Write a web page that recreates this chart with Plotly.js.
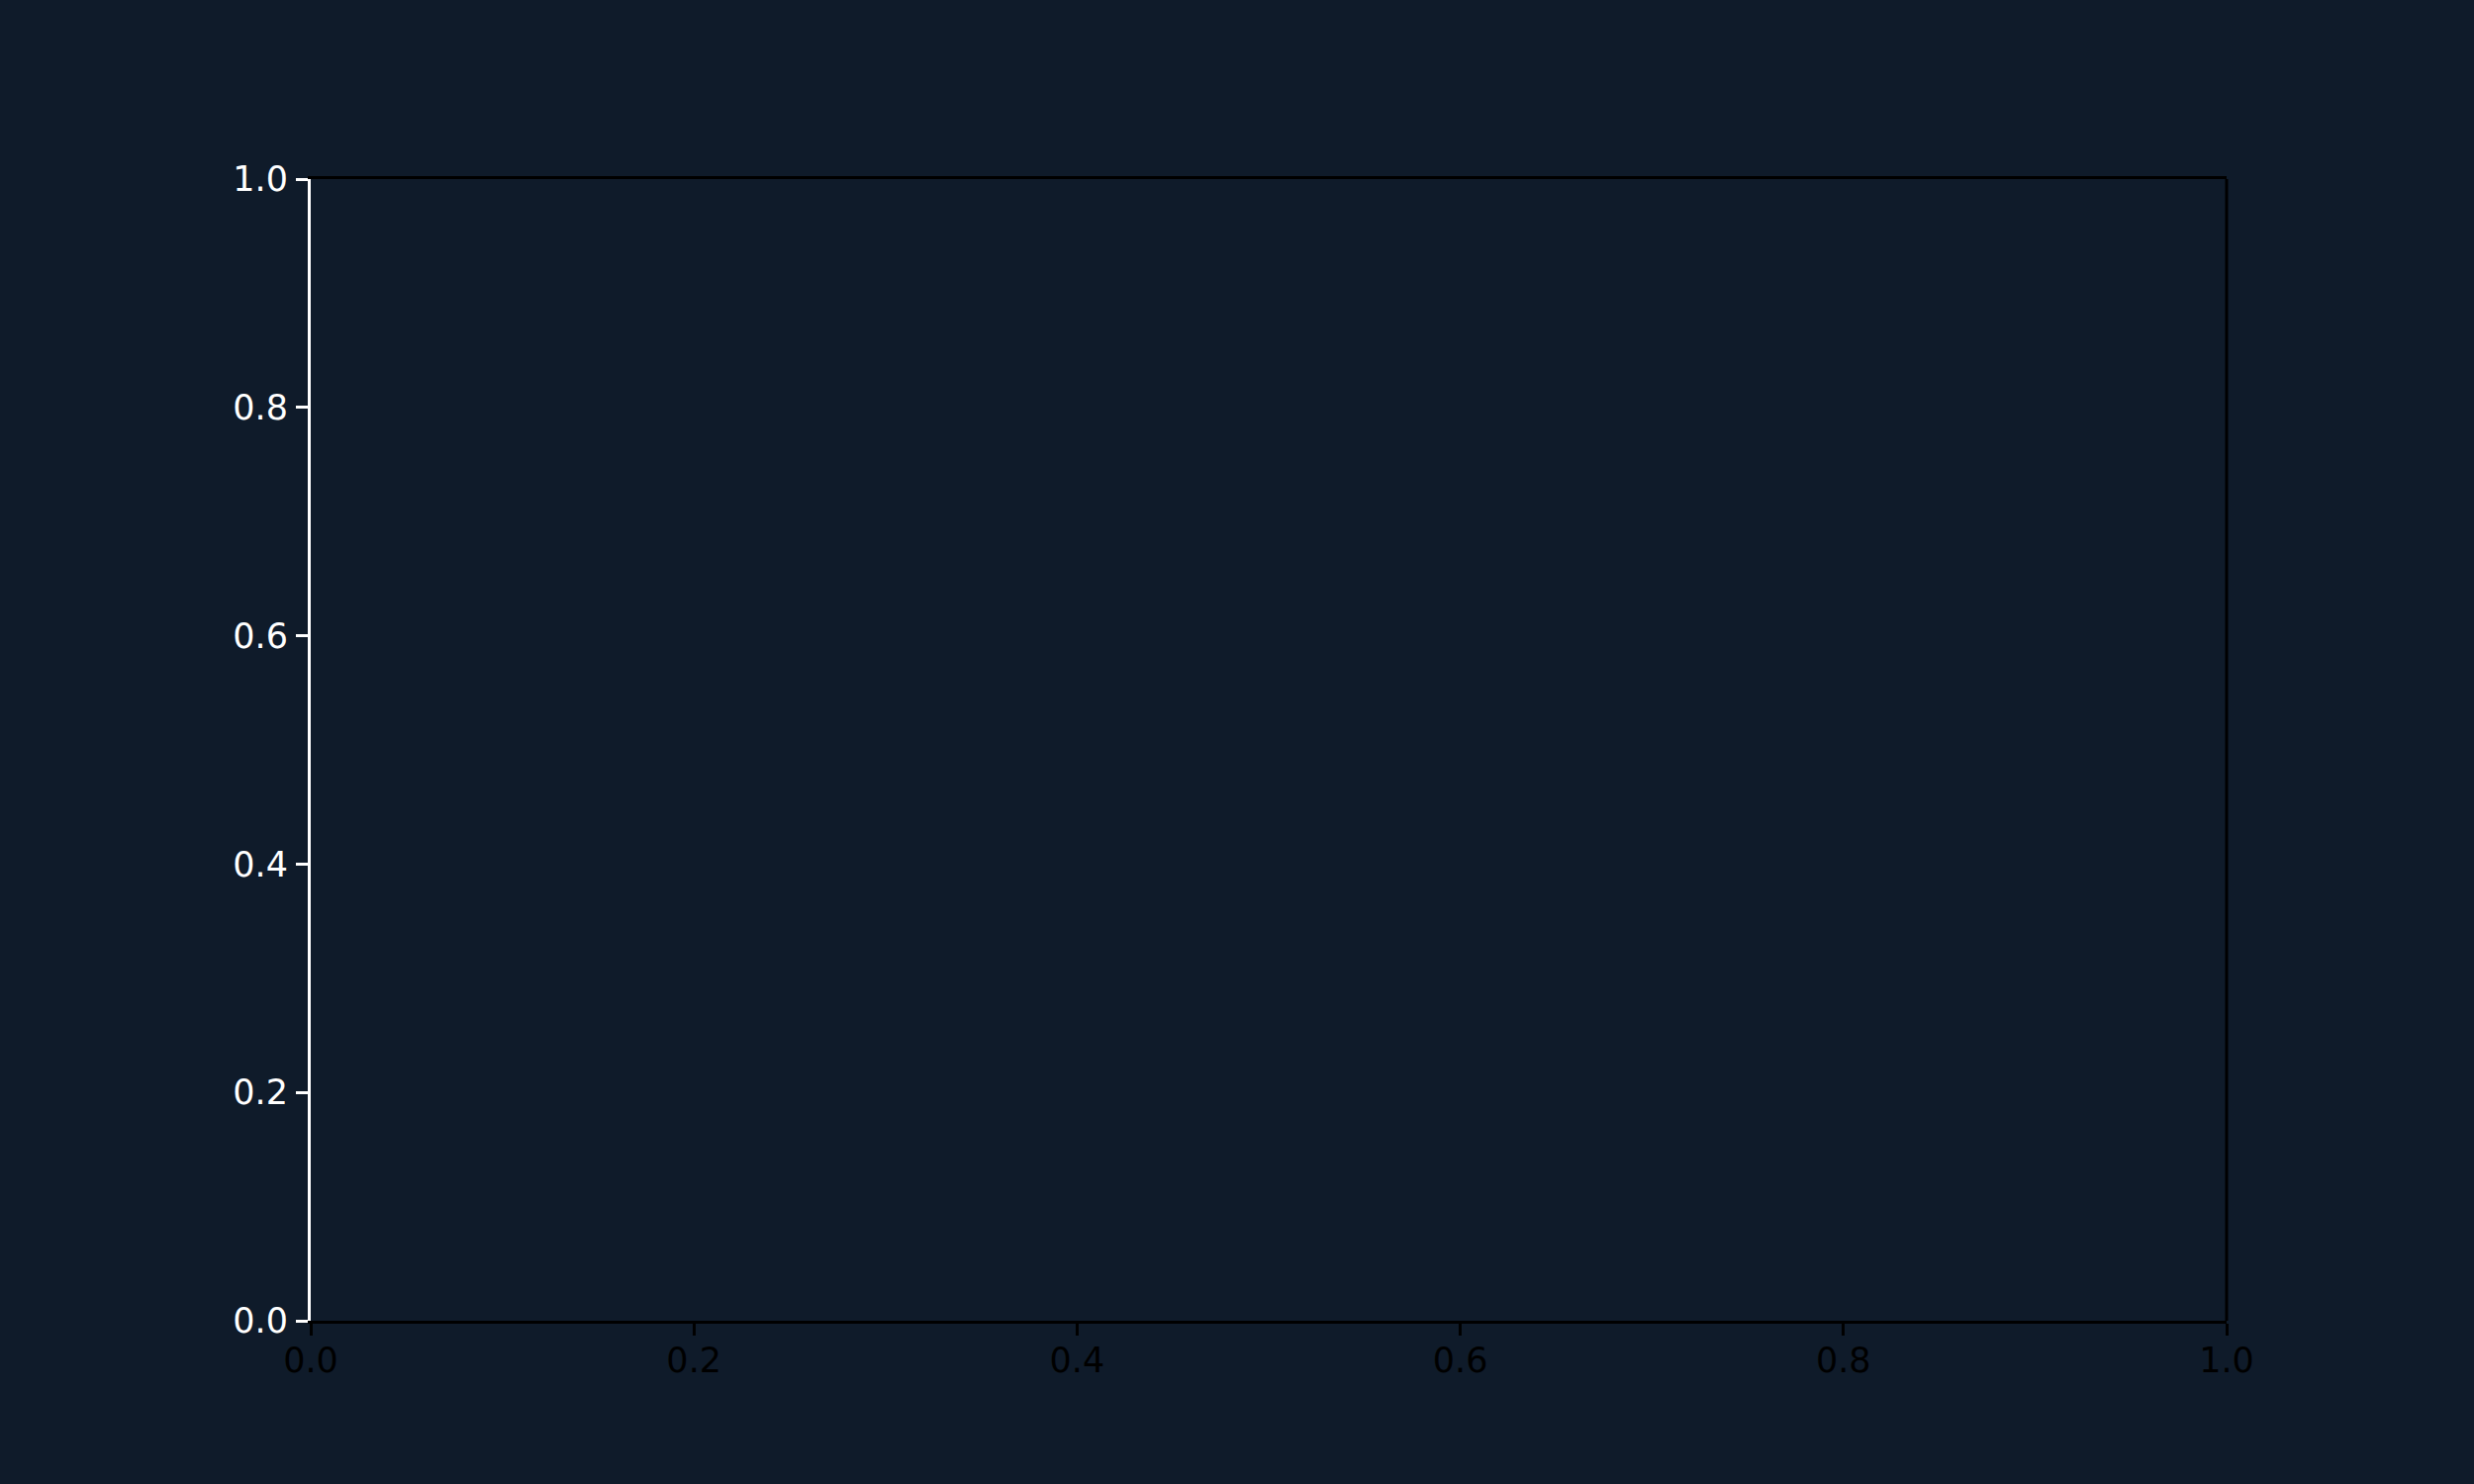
<!DOCTYPE html>
<html>
<head>
<meta charset="utf-8">
<script src="https://cdn.plot.ly/plotly-3.0.1.min.js"></script>
<style>
html,body{margin:0;padding:0;background:#0f1b2a;}
#chart{width:2500px;height:1500px;}
</style>
</head>
<body>
<div id="chart"></div>
<script>
// Empty axes: no series data, only tick positions / labels
const xTickVals = [0.0, 0.2, 0.4, 0.6, 0.8, 1.0];
const xTickLabels = ["0.0", "0.2", "0.4", "0.6", "0.8", "1.0"];
const yTickVals = [0.0, 0.2, 0.4, 0.6, 0.8, 1.0];
const yTickLabels = ["0.0", "0.2", "0.4", "0.6", "0.8", "1.0"];
const xRange = [0, 1];
const yRange = [0, 1];

const bg = '#0f1b2a';
const fontFamily = 'DejaVu Sans, sans-serif';

const data = [{x: [], y: [], type: 'scatter', mode: 'lines', showlegend: false, hoverinfo: 'skip'}];

const layout = {
  width: 2500, height: 1500,
  paper_bgcolor: bg, plot_bgcolor: bg,
  margin: {l: 314, r: 250, t: 181, b: 165, pad: 0},
  showlegend: false,
  xaxis: {
    range: xRange, tickmode: 'array', tickvals: xTickVals, ticktext: xTickLabels,
    showgrid: false, zeroline: false,
    showline: true, linecolor: '#000000', linewidth: 3, mirror: true,
    ticks: 'outside', ticklen: 12, tickwidth: 3, tickcolor: '#000000',
    tickfont: {family: fontFamily, size: 35, color: '#000000'},
    ticklabelstandoff: -5, fixedrange: true
  },
  yaxis: {
    range: yRange, tickmode: 'array', tickvals: yTickVals, ticktext: yTickLabels,
    showgrid: false, zeroline: false,
    showline: true, linecolor: '#ffffff', linewidth: 3, mirror: false,
    ticks: 'outside', ticklen: 12, tickwidth: 3, tickcolor: '#ffffff',
    tickfont: {family: fontFamily, size: 35, color: '#ffffff'},
    ticklabelstandoff: 1, fixedrange: true
  },
  shapes: [{
    type: 'line', xref: 'paper', yref: 'paper', x0: 1, x1: 1, y0: 0, y1: 1,
    line: {color: '#000000', width: 3}
  }]
};

Plotly.newPlot('chart', data, layout, {displayModeBar: false, staticPlot: true});
</script>
</body>
</html>
